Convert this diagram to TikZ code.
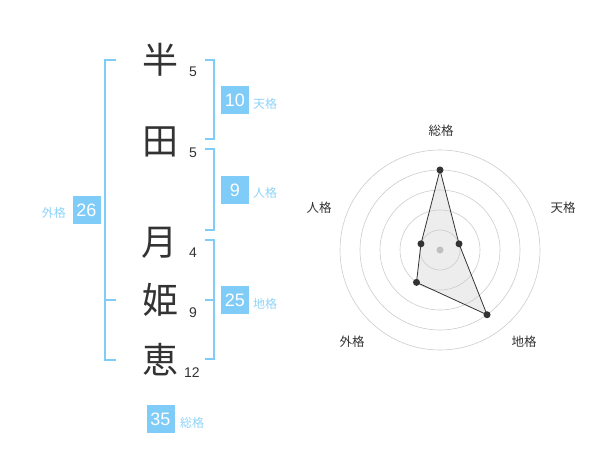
\documentclass[tikz,border=0pt]{standalone}
\usepackage{fontspec}
\setmainfont{Liberation Sans}
\newfontfamily\jp{Noto Sans CJK JP}
\usepackage{tikz}
\usetikzlibrary{calc}
\definecolor{sky}{HTML}{80CCF8}
\definecolor{skytext}{HTML}{8FD3F8}
\definecolor{dgray}{HTML}{333333}
\tikzstyle{kanji}=[font=\jp\fontsize{36}{36}\selectfont,text=dgray,inner sep=0pt]
\tikzstyle{strokes}=[font=\fontsize{14}{14}\selectfont,text=dgray,inner sep=0pt]
\tikzstyle{score}=[fill=sky,text=white,minimum width=28pt,minimum height=28pt,inner sep=0pt,font=\fontsize{18}{18}\selectfont]
\tikzstyle{kaku}=[text=skytext,font=\jp\fontsize{12}{12}\selectfont,inner sep=0pt]
\tikzstyle{bracket}=[draw=sky,line width=2pt]
\tikzstyle{ring}=[draw=black!20,line width=.6pt]
\tikzstyle{axis}=[font=\jp\fontsize{12.5}{12.5}\selectfont,text=dgray,inner sep=0pt]
\tikzstyle{dot}=[circle,fill=dgray,inner sep=0pt,minimum size=7pt]

\begin{document}
\begin{tikzpicture}[x=1pt,y=-1pt]
	\useasboundingbox (0,0) rectangle (600,470);
	% name and strokes
	\node[kanji] (k1) at (160,60) {半};
	\node[kanji] (k2) at (160,142) {田};
	\node[kanji] (k3) at (159,243) {月};
	\node[kanji] (k4) at (160,300) {姫};
	\node[kanji] (k5) at (160,360) {恵};
	\node[strokes] (s1) at (193,72) {5};
	\node[strokes] (s2) at (193,153) {5};
	\node[strokes] (s3) at (193,253) {4};
	\node[strokes] (s4) at (193,313) {9};
	\node[strokes] (s5) at (192,373) {12};
	%
	\draw[bracket] (116,60) -- (105,60) -- (105,360) -- (116,360);
	\draw[bracket] (105,300) -- (116,300);
	\draw[bracket] (205,60) -- (214,60) -- (214,139) -- (205,139);
	\draw[bracket] (205,149) -- (214,149) -- (214,230) -- (205,230);
	\draw[bracket] (205,240) -- (214,240) -- (214,359) -- (205,359);
	\draw[bracket] (205,300) -- (214,300);
	%
	\node[score] (ten) at (235,100) {10};
	\node[kaku,anchor=west] (tenlab) at (253,104) {天格};
	\node[score] (jin) at (235,190) {9};
	\node[kaku,anchor=west] (jinlab) at (253,193) {人格};
	\node[score] (chi) at (235,300.5) {25};
	\node[kaku,anchor=west] (chilab) at (253,304) {地格};
	\node[score] (gai) at (86.5,210.5) {26};
	\node[kaku,anchor=east] (gailab) at (66,213) {外格};
	\node[score] (sou) at (160.5,419) {35};
	\node[kaku,anchor=west] (soulab) at (180,423) {総格};
	% radar
	\coordinate (c) at (440,250);
	\coordinate (r1) at ($(c)+(90:80pt)$);
	\coordinate (r2) at ($(c)+(18:20pt)$);
	\coordinate (r3) at ($(c)+(-54:80pt)$);
	\coordinate (r4) at ($(c)+(234:40pt)$);
	\coordinate (r5) at ($(c)+(162:20pt)$);
	\fill[black!7] (r1) -- (r2) -- (r3) -- (r4) -- (r5) -- cycle;
	\foreach \r in {20,40,...,100}
		\draw[ring] (c) circle (\r pt);
	\node[circle,fill=black!25,inner sep=0pt,minimum size=7pt] (mid) at (c) {};
	\draw[dgray,line width=.8pt] (r1) -- (r2) -- (r3) -- (r4) -- (r5) -- cycle;
	\foreach \i in {1,...,5}
		\node[dot] (d\i) at (r\i) {};
	%
	\node[axis] (a1) at (441,131) {総格};
	\node[axis] (a2) at (563,208) {天格};
	\node[axis] (a3) at (524,342) {地格};
	\node[axis] (a4) at (352,342) {外格};
	\node[axis] (a5) at (319,208) {人格};
\end{tikzpicture}
\end{document}
